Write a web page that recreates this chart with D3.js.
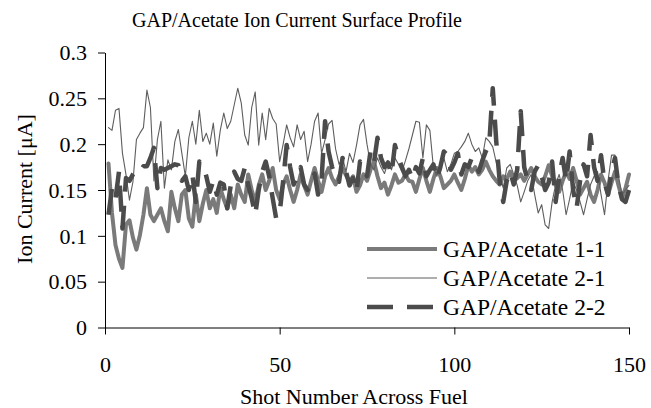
<!DOCTYPE html>
<html>
<head>
<meta charset="utf-8">
<script src="https://cdn.jsdelivr.net/npm/d3@7"></script>
<style>
  html, body { margin: 0; padding: 0; background: #fff; }
  svg { display: block; }
  svg text { font-family: "Liberation Serif", "Times New Roman", serif; }
</style>
</head>
<body>
<svg id="chart" width="651" height="408"></svg>
<script>
const title = "GAP/Acetate Ion Current Surface Profile";
const xTitle = "Shot Number Across Fuel";
const yTitle = "Ion Current [\u03BCA]";
const seriesNames = ["GAP/Acetate 1-1", "GAP/Acetate 2-1", "GAP/Acetate 2-2"];
const xTicks = [0, 50, 100, 150];
const yTicks = [0, 0.05, 0.1, 0.15, 0.2, 0.25, 0.3];
const yTickLabels = ["0", "0.05", "0.1", "0.15", "0.2", "0.25", "0.3"];

const shots = d3.range(1, 151);

const gap11 = [
0.179,0.125,0.090,0.075,0.065,0.112,0.117,0.098,0.085,0.101,
0.123,0.152,0.123,0.116,0.123,0.130,0.116,0.105,0.148,0.130,
0.116,0.145,0.150,0.119,0.110,0.145,0.116,0.135,0.150,0.130,
0.140,0.125,0.152,0.140,0.130,0.145,0.130,0.156,0.145,0.137,
0.167,0.150,0.137,0.155,0.167,0.150,0.160,0.174,0.150,0.140,
0.156,0.165,0.150,0.137,0.150,0.167,0.155,0.145,0.160,0.174,
0.160,0.148,0.165,0.174,0.163,0.156,0.165,0.174,0.166,0.159,
0.165,0.148,0.155,0.167,0.160,0.172,0.181,0.165,0.152,0.158,
0.145,0.155,0.167,0.158,0.160,0.167,0.160,0.159,0.148,0.162,
0.174,0.160,0.148,0.162,0.174,0.165,0.152,0.156,0.160,0.167,
0.158,0.150,0.162,0.177,0.170,0.175,0.167,0.172,0.181,0.172,
0.165,0.160,0.156,0.165,0.162,0.170,0.160,0.163,0.167,0.160,
0.167,0.174,0.165,0.159,0.156,0.165,0.177,0.165,0.155,0.148,
0.160,0.170,0.162,0.174,0.160,0.145,0.152,0.159,0.145,0.137,
0.150,0.167,0.158,0.145,0.158,0.170,0.155,0.141,0.152,0.167
];

const gap21 = [
0.218,0.215,0.237,0.239,0.190,0.167,0.139,0.159,0.205,0.212,
0.218,0.259,0.240,0.160,0.205,0.225,0.152,0.183,0.172,0.203,
0.216,0.190,0.165,0.207,0.225,0.200,0.237,0.203,0.212,0.200,
0.223,0.187,0.215,0.234,0.217,0.225,0.243,0.261,0.245,0.210,
0.199,0.240,0.257,0.199,0.234,0.205,0.239,0.228,0.222,0.181,
0.200,0.221,0.207,0.197,0.221,0.205,0.214,0.181,0.200,0.225,
0.234,0.190,0.205,0.222,0.226,0.195,0.178,0.185,0.170,0.190,
0.180,0.199,0.221,0.227,0.200,0.178,0.172,0.185,0.175,0.168,
0.180,0.172,0.185,0.178,0.170,0.182,0.195,0.210,0.225,0.224,
0.185,0.221,0.215,0.175,0.165,0.180,0.185,0.170,0.178,0.190,
0.192,0.197,0.203,0.212,0.200,0.192,0.196,0.185,0.207,0.203,
0.197,0.180,0.167,0.152,0.174,0.178,0.167,0.155,0.137,0.148,
0.160,0.167,0.145,0.125,0.134,0.112,0.108,0.137,0.156,0.167,
0.150,0.123,0.140,0.159,0.150,0.137,0.123,0.140,0.156,0.165,
0.170,0.145,0.123,0.160,0.188,0.188,0.165,0.145,0.150,0.155
];

const gap22 = [
0.123,0.152,0.140,0.170,0.108,0.163,0.160,0.167,0.172,0.170,
0.176,0.176,0.185,0.196,0.152,0.174,0.172,0.174,0.176,0.178,
0.177,0.160,0.165,0.150,0.167,0.137,0.181,0.177,0.165,0.148,
0.160,0.145,0.158,0.156,0.130,0.155,0.170,0.162,0.160,0.174,
0.155,0.141,0.123,0.150,0.170,0.181,0.165,0.141,0.119,0.125,
0.160,0.199,0.175,0.156,0.165,0.175,0.156,0.150,0.160,0.168,
0.145,0.162,0.225,0.192,0.175,0.165,0.159,0.185,0.170,0.155,
0.163,0.148,0.181,0.175,0.165,0.192,0.180,0.207,0.185,0.175,
0.180,0.167,0.199,0.185,0.175,0.165,0.172,0.162,0.175,0.168,
0.185,0.165,0.172,0.178,0.162,0.175,0.192,0.188,0.172,0.180,
0.190,0.167,0.178,0.175,0.185,0.180,0.170,0.182,0.192,0.200,
0.261,0.203,0.159,0.137,0.160,0.170,0.156,0.172,0.236,0.175,
0.160,0.150,0.170,0.177,0.165,0.150,0.158,0.181,0.137,0.165,
0.185,0.160,0.192,0.150,0.130,0.160,0.178,0.165,0.210,0.175,
0.160,0.188,0.158,0.145,0.170,0.185,0.155,0.140,0.137,0.150
];

const seriesValues = [gap11, gap21, gap22];
const seriesStyles = [
  { color: "#7a7a7a", width: 4, dash: null },
  { color: "#5e5e5e", width: 1.1, dash: null },
  { color: "#4b4b4b", width: 4.5, dash: "26,14" }
];

const FONT = "'Liberation Serif', 'Times New Roman', serif";

const svg = d3.select("#chart");
const x = d3.scaleLinear().domain([0, 150]).range([105, 629]);
const y = d3.scaleLinear().domain([0, 0.3]).range([327.5, 52.5]);

const fontSize = 22;

// Axes
const xAxis = d3.axisBottom(x).tickValues(xTicks).tickFormat(d3.format("d")).tickSizeInner(7).tickSizeOuter(0);
const gx = svg.append("g").attr("transform", `translate(0,${y(0)})`).call(xAxis)
  .attr("font-family", FONT).attr("font-size", fontSize);
gx.selectAll("text").attr("y", 44.5).attr("dy", 0)
  .attr("font-family", FONT).attr("font-size", fontSize).attr("fill", "#000");

const yAxis = d3.axisLeft(y).tickValues(yTicks).tickFormat((d, i) => yTickLabels[i]).tickSizeInner(7).tickSizeOuter(0).tickPadding(11);
const gy = svg.append("g").attr("transform", `translate(${x(0)},0)`).call(yAxis)
  .attr("font-family", FONT).attr("font-size", fontSize);
gy.selectAll("text").attr("dy", "0.33em")
  .attr("font-family", FONT).attr("font-size", fontSize).attr("fill", "#000");

svg.selectAll(".domain, .tick line").attr("stroke", "#000").attr("stroke-width", 1);

// Lines
const line = d3.line().x((d, i) => x(shots[i])).y(d => y(d));
seriesValues.forEach((vals, k) => {
  const st = seriesStyles[k];
  const p = svg.append("path").datum(vals)
    .attr("d", line)
    .attr("fill", "none")
    .attr("stroke", st.color)
    .attr("stroke-width", st.width)
    .attr("stroke-linejoin", "round");
  if (st.dash) p.attr("stroke-dasharray", st.dash).attr("stroke-linecap", "butt");
  else p.attr("stroke-linecap", "round");
});

// Legend
const legendY = [249, 278, 307];
seriesNames.forEach((name, k) => {
  const st = seriesStyles[k];
  const ln = svg.append("line")
    .attr("x1", 367).attr("x2", 437)
    .attr("y1", legendY[k]).attr("y2", legendY[k])
    .attr("stroke", st.color).attr("stroke-width", st.width);
  if (st.dash) ln.attr("stroke-dasharray", st.dash);
  svg.append("text").attr("x", 443).attr("y", legendY[k]).attr("dy", "0.34em")
    .attr("font-family", FONT).attr("font-size", 23.5).attr("fill", "#000").text(name);
});

// Titles
svg.append("text").attr("x", 297).attr("y", 27).attr("text-anchor", "middle")
  .attr("font-family", FONT).attr("font-size", 20).attr("fill", "#000").text(title);
svg.append("text").attr("x", 354).attr("y", 404).attr("text-anchor", "middle")
  .attr("font-family", FONT).attr("font-size", 22).attr("fill", "#000").text(xTitle);
svg.append("text").attr("transform", "translate(32,189) rotate(-90)").attr("text-anchor", "middle")
  .attr("font-family", FONT).attr("font-size", 22).attr("fill", "#000").text(yTitle);
</script>
</body>
</html>
